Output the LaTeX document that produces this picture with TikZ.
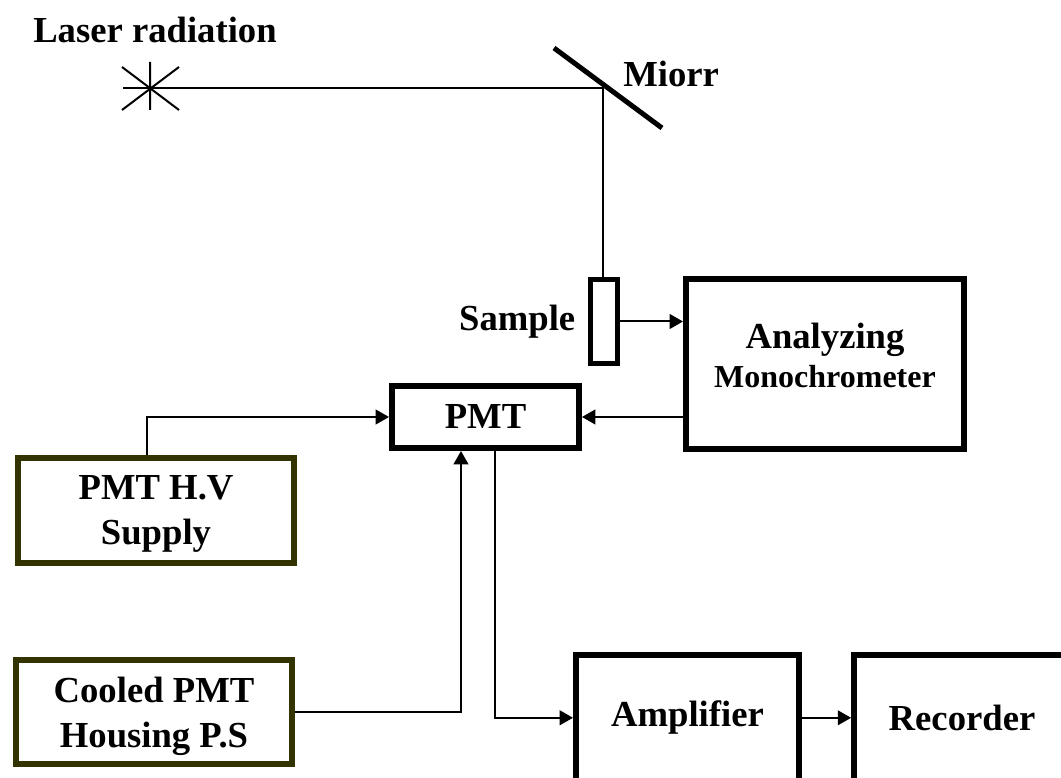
\documentclass[tikz,border=0pt]{standalone}
\usepackage{fontspec}
\setmainfont{Liberation Serif}
\usetikzlibrary{arrows.meta,positioning}
\definecolor{olivebox}{RGB}{51,51,0}

\begin{document}
\begin{tikzpicture}[x=0.75pt,y=0.75pt,
  box/.style={draw,line width=4.2pt,font=\bfseries\fontsize{27.5}{33.75}\selectfont,align=center},
  psbox/.style={box,draw=olivebox,text depth=0pt},
  lbl/.style={font=\bfseries\fontsize{27.5}{33.75}\selectfont,inner sep=0pt},
  conn/.style={line width=1.5pt},
  arr/.style={conn,-{Triangle[length=10pt,width=11pt]}}]
\useasboundingbox (0,0) rectangle (1061,778);
\clip (0,0) rectangle (1061,778);
\coordinate (star) at (150,690); \coordinate (beam) at (123,690); \coordinate (mir) at (603,690);
\draw[conn] (star) ++(0,26) --++(0,-48) (star) ++(-28,21) --++(57,-43) (star) ++(29,21) --++(-57,-43);
\draw[line width=3.75pt] (554,730) -- (662,650);
\node[lbl,anchor=base west] (laser) at (33,735) {Laser radiation};
\node[lbl,anchor=base west] (mirlbl) at (623,691) {Miorr};
\node[draw,line width=3.75pt,minimum width=20.25pt,minimum height=63pt,inner sep=0pt] (smp) at (603.5,456.5) {};
\node[lbl,inner sep=9pt,left=0pt of smp] (smplbl) {Sample};
\node[box,font=\bfseries\fontsize{27.5}{29.25}\selectfont,minimum width=208.8pt,minimum height=127.8pt,text depth=13.5pt] (ana) at (825,414) {Analyzing\\{\fontsize{24}{29.25}\selectfont Monochrometer}};
\node[box,minimum width=140.55pt,minimum height=46.8pt] (pmt) at (485.5,361) {PMT};
\node[psbox,minimum width=207.3pt,minimum height=79.05pt] (hv) at (156,267.5) {PMT H.V\\Supply};
\node[psbox,minimum width=207.3pt,minimum height=78.3pt] (cool) at (154,66) {Cooled PMT\\Housing P.S};
\node[box,minimum width=167.55pt,minimum height=94.5pt] (amp) at (687.5,60.2) {Amplifier};
\node[box,minimum width=162.15pt,minimum height=94.5pt] (rec) at (962,60.2) {Recorder};
\draw[conn] (beam) -- (mir) -- (mir |- smp.north);
\draw[arr] (smp.east) -- (smp.east -| ana.west);
\draw[arr] (pmt.east -| ana.west) -- (pmt.east);
\draw[arr] ([xshift=-6.75pt]hv.north) |- (pmt.west);
\draw[arr] (cool.east) -| ([xshift=-18.4pt]pmt.south);
\draw[arr] ([xshift=7pt]pmt.south) |- (amp.west);
\draw[arr] (amp.east) -- (rec.west);
\end{tikzpicture}
\end{document}
